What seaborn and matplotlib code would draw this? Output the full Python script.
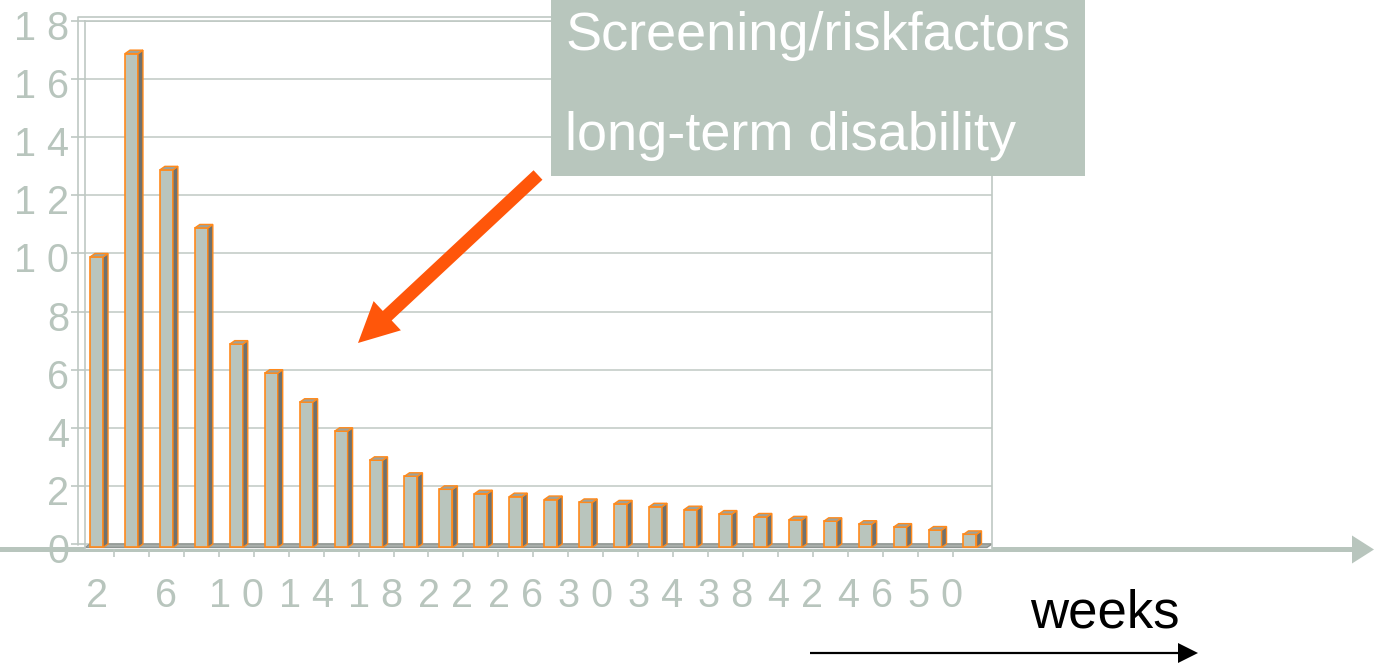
import matplotlib
matplotlib.use("Agg")
import matplotlib.pyplot as plt
import matplotlib.patches as mpatches
from matplotlib.transforms import ScaledTranslation, IdentityTransform
import seaborn as sns
import pandas as pd

# ---- data -------------------------------------------------------------
weeks = [2, 4, 6, 8, 10, 12, 14, 16, 18, 20, 22, 24, 26,
         28, 30, 32, 34, 36, 38, 40, 42, 44, 46, 48, 50, 52]
cases = [10, 17, 13, 11, 7, 6, 5, 4, 3, 2.45, 2.0, 1.85, 1.75,
         1.65, 1.55, 1.5, 1.4, 1.3, 1.15, 1.05, 0.95, 0.9, 0.8, 0.7, 0.6, 0.45]
tick_weeks = [2, 6, 10, 14, 18, 22, 26, 30, 34, 38, 42, 46, 50]
y_ticks = [0, 2, 4, 6, 8, 10, 12, 14, 16, 18]
callout_lines = ["Screening/riskfactors", "long-term disability"]
axis_title = "weeks"

# ---- style ------------------------------------------------------------
SAGE = "#b8c5bd"
FRONT = "#b9c5bd"
SIDE = "#6f716e"
TOP = "#9da29b"
EDGE = "#ff8a1c"
GRID = "#c9d1cd"
WALL = "#bfc8c3"
FLOOR = "#aab0ac"
ARROW_RED = "#ff560a"

sns.set_style("white")
plt.rcParams["font.family"] = ["Liberation Sans", "DejaVu Sans"]

W, H = 1374, 664
fig = plt.figure(figsize=(W / 100, H / 100), dpi=100)

ax = fig.add_axes([85 / W, 1 - 548.9 / H, 907 / W, 527.8 / H])
ax.set_facecolor("white")

df = pd.DataFrame({"week": weeks, "cases": cases})
sns.barplot(data=df, x="week", y="cases", order=weeks, color=FRONT,
            saturation=1, width=0.372, edgecolor=EDGE, linewidth=1.2,
            errorbar=None, ax=ax, zorder=3)

# 3-D look: push the front faces forward and add side and top faces
dx, dz = 0.143, 0.12
for p in list(ax.patches):
    x0, w, h = p.get_x(), p.get_width(), p.get_height()
    p.set_y(-dz)
    side = mpatches.Polygon([(x0 + w, -dz), (x0 + w + dx, 0), (x0 + w + dx, h), (x0 + w, h - dz)],
                            closed=True, fc=SIDE, ec=EDGE, lw=1.0, zorder=3)
    top = mpatches.Polygon([(x0, h - dz), (x0 + dx, h), (x0 + w + dx, h), (x0 + w, h - dz)],
                           closed=True, fc=TOP, ec=EDGE, lw=1.0, zorder=3)
    ax.add_patch(side)
    ax.add_patch(top)

xl, xr = -0.33, 25.63
ax.set_xlim(xl, xr)
ax.set_ylim(-0.17, 18)

# floor slab
floor = mpatches.Polygon([(xl, -dz), (xr - dx, -dz), (xr, 0), (xl + dx, 0)], closed=True,
                         fc=FLOOR, ec="#8e9490", lw=1.0, zorder=2)
ax.add_patch(floor)

# grid and walls
ax.yaxis.grid(True, color=GRID, lw=1.3)
ax.xaxis.grid(False)
ax.set_axisbelow(True)
for s in ["left", "top", "right"]:
    ax.spines[s].set_visible(True)
    ax.spines[s].set_color(WALL)
    ax.spines[s].set_linewidth(1.2)
ax.spines["bottom"].set_visible(False)
wall_off = ScaledTranslation(-0.07, 0.04, fig.dpi_scale_trans)
ax.plot([0, 0, 1], [0, 1, 1], transform=ax.transAxes + wall_off, color=WALL,
        lw=1.2, clip_on=False, zorder=1)

# ticks
spaced = lambda v: " ".join(str(v))
ax.set_yticks(y_ticks)
ax.set_yticklabels([spaced(v) for v in y_ticks])
ax.tick_params(axis="y", left=True, length=10, width=1.2, color=WALL, pad=1.5,
               labelsize=28.5, labelcolor=SAGE)
ylab_off = ScaledTranslation(0, -0.04, fig.dpi_scale_trans)
for lab in ax.get_yticklabels():
    lab.set_transform(lab.get_transform() + ylab_off)

ax.set_xticks([weeks.index(w) for w in tick_weeks])
ax.set_xticklabels([spaced(w) for w in tick_weeks])
ax.set_xticks([i + 0.5 for i in range(len(weeks) - 1)], minor=True)
ax.tick_params(axis="x", which="major", bottom=True, length=0, pad=20,
               labelsize=28.5, labelcolor=SAGE)
ax.tick_params(axis="x", which="minor", bottom=True, length=6, width=1.2, color=WALL)
ax.set_xlabel("")
ax.set_ylabel("")

# long horizontal time arrow behind the chart
px = IdentityTransform()
fig.add_artist(mpatches.FancyArrow(0, H - 549.5, W, 0, width=5, head_width=28, head_length=22,
                                   length_includes_head=True, color=SAGE, lw=0,
                                   transform=px, zorder=-1))

# callout box
fig.add_artist(mpatches.Rectangle((551, H - 176), 534, 176, fc="#b8c6bd", ec="none",
                                  transform=px, zorder=5))
fig.text(565 / W, 1 - 50 / H, callout_lines[0], fontsize=39, color="white",
         ha="left", va="baseline", zorder=6)
fig.text(565 / W, 1 - 150 / H, callout_lines[1], fontsize=39, color="white",
         ha="left", va="baseline", zorder=6)

# pointer arrow
fig.add_artist(mpatches.FancyArrow(538, H - 175, -180, -168, width=13, head_width=40,
                                   head_length=40, length_includes_head=True,
                                   color=ARROW_RED, lw=0, transform=px, zorder=6))

# weeks label with arrow
fig.text(1030 / W, 1 - 628 / H, axis_title, fontsize=38, color="black",
         ha="left", va="baseline")
fig.add_artist(mpatches.FancyArrow(810, H - 653, 388, 0, width=2.2, head_width=20,
                                   head_length=20, length_includes_head=True,
                                   color="black", lw=0, transform=px, zorder=6))

fig.savefig("out.png", dpi=100)
